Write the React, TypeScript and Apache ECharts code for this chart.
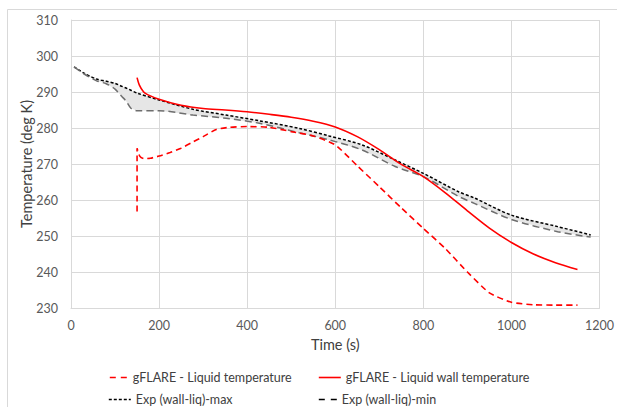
import React, { useEffect, useRef } from "react";
import * as echarts from "echarts";

// gFLARE - Liquid temperature
const liqTime = [150, 150, 156, 165, 180, 200, 225, 250, 275, 300, 330, 360, 400, 450, 500, 550, 600, 650, 700, 750, 800, 850, 900, 950, 1000, 1050, 1100, 1150];
const liqTemp = [256.8, 274.4, 272.2, 271.5, 271.6, 272.2, 273.2, 274.4, 276, 277.6, 279.6, 280.2, 280.4, 280.2, 279, 277.8, 275.3, 269.5, 263.7, 257.8, 252.1, 246.5, 240, 234.2, 231.6, 230.9, 230.8, 230.8];

// gFLARE - Liquid wall temperature
const wallTime = [150, 155, 165, 175, 200, 250, 300, 350, 400, 450, 500, 550, 600, 650, 700, 750, 800, 850, 900, 950, 1000, 1050, 1100, 1150];
const wallTemp = [294, 292, 290, 289.2, 288, 286.3, 285.4, 285, 284.5, 283.8, 283, 281.9, 280.3, 277.6, 274, 269.9, 266.5, 262, 257, 252.2, 248.2, 245, 242.6, 240.7];

// Experimental (wall-liq) max / min
const expTime = [7, 30, 58, 80, 100, 115, 125, 136, 150, 200, 277, 352, 428, 518, 586, 661, 736, 800, 880, 917, 1000, 1105, 1180];
const expMax = [297, 295.2, 293.6, 293, 292.4, 291.6, 291.1, 290.5, 289.7, 287.8, 285.2, 283.6, 282, 279.9, 277.8, 275.3, 271.1, 267.4, 262.3, 260.5, 255.8, 252.6, 250.3];
const expMin = [297, 295, 293.1, 292.3, 290.8, 288.8, 287.5, 285.5, 284.8, 284.8, 283.6, 282.7, 281.3, 278.7, 276.7, 273.9, 269.3, 266.5, 261, 259, 254.6, 251.2, 249.7];

const xTicks = { min: 0, max: 1200, interval: 200 };
const yTicks = { min: 230, max: 310, interval: 10 };

const FONT = "Lato";
const names = [
  "gFLARE - Liquid temperature",
  "gFLARE - Liquid wall temperature",
  "Exp (wall-liq)-max",
  "Exp (wall-liq)-min",
];

const pairs = (xs: number[], ys: number[]) => xs.map((x, i) => [x, ys[i]]);

export default function App() {
  const ref = useRef<HTMLDivElement>(null);
  useEffect(() => {
    if (!ref.current) return;
    const chart = echarts.init(ref.current, null, { renderer: "svg" });
    const legendBase = {
      orient: "horizontal",
      itemHeight: 10,
      textStyle: { fontFamily: FONT, fontSize: 12.5, color: "#404040" },
      padding: 0,
      itemStyle: { opacity: 0, borderWidth: 0 },
    };
    chart.setOption({
      animation: false,
      backgroundColor: "#fff",
      textStyle: { fontFamily: FONT },
      graphic: [
        {
          type: "rect",
          left: 5,
          top: 7,
          shape: { width: 620, height: 420 },
          style: { fill: "none", stroke: "#D9D9D9", lineWidth: 1 },
          silent: true,
        },
      ],
      grid: { left: 71, right: 14, top: 20, bottom: 99, containLabel: false },
      xAxis: {
        type: "value",
        ...xTicks,
        name: "Time (s)",
        nameLocation: "middle",
        nameGap: 29,
        nameMoveOverlap: false,
        nameTextStyle: { fontFamily: FONT, fontSize: 14.5, color: "#404040" },
        axisLine: { show: true, lineStyle: { color: "#D9D9D9" } },
        axisTick: { show: false },
        axisLabel: { margin: 11, fontFamily: FONT, fontSize: 12.5, color: "#595959", formatter: (v: number) => String(v) },
        splitLine: { show: true, lineStyle: { color: "#D9D9D9" } },
      },
      yAxis: {
        type: "value",
        ...yTicks,
        name: "Temperature (deg K)",
        nameLocation: "middle",
        nameGap: 37,
        nameMoveOverlap: false,
        nameTextStyle: { fontFamily: FONT, fontSize: 14.5, color: "#404040" },
        axisLine: { show: true, lineStyle: { color: "#D9D9D9" } },
        axisTick: { show: false },
        axisLabel: { margin: 13, fontFamily: FONT, fontSize: 12.5, color: "#595959", formatter: (v: number) => String(v) },
        splitLine: { show: true, lineStyle: { color: "#D9D9D9" } },
      },
      legend: [
        { ...legendBase, left: 109, top: 371, itemWidth: 18, lineStyle: { type: [6, 5], width: 1.6, color: "#FF0000" }, data: [names[0]] },
        { ...legendBase, left: 318, top: 371, itemWidth: 22, lineStyle: { type: "solid", width: 1.6, color: "#FF0000" }, data: [names[1]] },
        { ...legendBase, left: 108, top: 393, itemWidth: 22, lineStyle: { type: [3, 2], width: 1.6, color: "#000000" }, data: [names[2]] },
        { ...legendBase, left: 318, top: 393, itemWidth: 18, lineStyle: { type: [6, 6], width: 1.6, color: "#000000" }, data: [names[3]] },
      ],
      series: [
        {
          type: "custom",
          name: "band",
          silent: true,
          z: 1,
          data: [[expTime[0], expMax[0]]],
          renderItem: (_p: any, api: any) => {
            const top = expTime.map((t, i) => api.coord([t, expMax[i]]));
            const bot = expTime.map((t, i) => api.coord([t, expMin[i]])).reverse();
            return {
              type: "polygon",
              shape: { points: top.concat(bot) },
              style: { fill: "#E6E6E6", stroke: "none" },
            };
          },
        },
        {
          type: "line",
          name: names[0],
          data: pairs(liqTime, liqTemp),
          showSymbol: false,
          symbol: "none",
          smooth: 0.2,
          z: 4,
          lineStyle: { color: "#FF0000", width: 1.6, type: [6, 4] },
          itemStyle: { color: "#FF0000" },
        },
        {
          type: "line",
          name: names[1],
          data: pairs(wallTime, wallTemp),
          showSymbol: false,
          symbol: "none",
          smooth: 0.3,
          z: 4,
          lineStyle: { color: "#FF0000", width: 1.6 },
          itemStyle: { color: "#FF0000" },
        },
        {
          type: "line",
          name: names[2],
          data: pairs(expTime, expMax),
          showSymbol: false,
          symbol: "none",
          smooth: 0.3,
          z: 3,
          lineStyle: { color: "#000000", width: 1.5, type: [3, 2] },
          itemStyle: { color: "#000000" },
        },
        {
          type: "line",
          name: names[3],
          data: pairs(expTime, expMin),
          showSymbol: false,
          symbol: "none",
          smooth: 0.3,
          z: 3,
          lineStyle: { color: "#6E6E6E", width: 1.5, type: [7, 4] },
          itemStyle: { color: "#6E6E6E" },
        },
      ],
    });
    return () => chart.dispose();
  }, []);
  return <div ref={ref} style={{ width: 617, height: 407, position: "absolute", left: 0, top: 0 }} />;
}
